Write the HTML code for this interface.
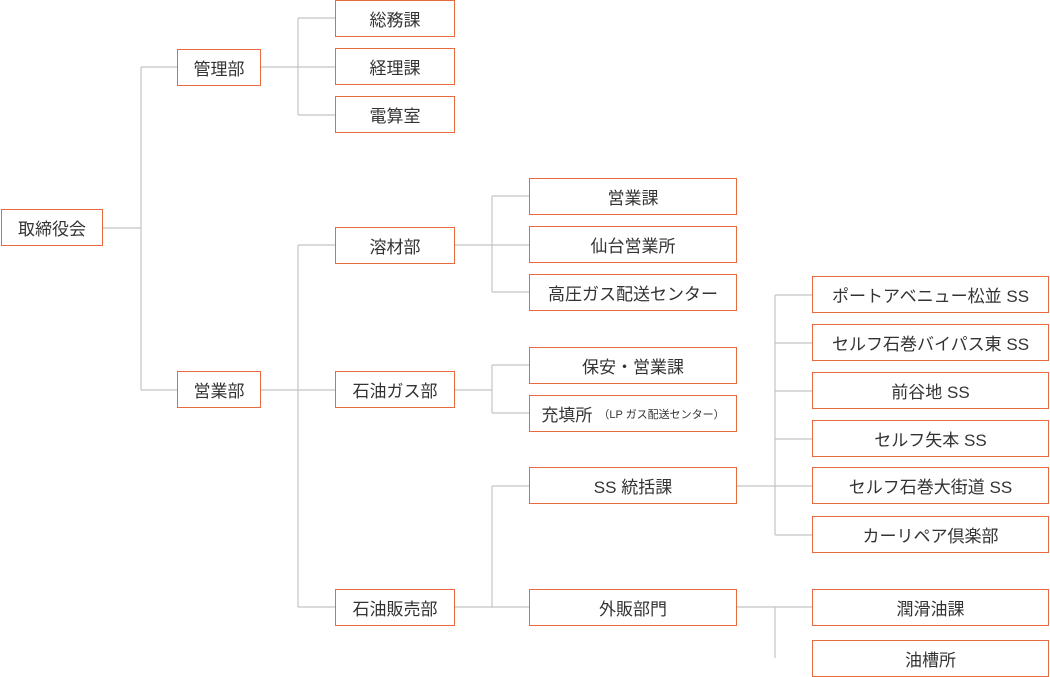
<!DOCTYPE html>
<html><head><meta charset="utf-8"><style>
body{margin:0;width:1050px;height:677px;background:#fff;position:relative;overflow:hidden;font-family:"Liberation Sans","Noto Sans CJK JP",sans-serif;color:#333}
.b{position:absolute;box-sizing:border-box;border:1.5px solid #ea6a40;background:#fff;display:flex;align-items:center;justify-content:center;font-size:17px;height:37px;white-space:nowrap}
svg{position:absolute;left:0;top:0}
small{font-size:11px;margin-left:6px}
</style></head><body>
<svg width="1050" height="677"><g stroke="#c4c4c4" stroke-width="1.2" fill="none">
<path d="M103 228H141M141 67V390M141 67H177M141 390H177"/>
<path d="M261 67H335M298 18V115M298 18H335M298 115H335"/>
<path d="M261 390H298M298 245V607M298 245H335M298 390H335M298 607H335"/>
<path d="M455 245H529M492 196V292M492 196H529M492 292H529"/>
<path d="M455 390H492M492 365V413M492 365H529M492 413H529"/>
<path d="M455 607H529M492 486V607M492 486H529"/>
<path d="M737 486H812M775 295V535M775 295H812M775 343H812M775 391H812M775 439H812M775 535H812"/>
<path d="M737 607H812M775 607V658"/>
</g></svg>
<div class="b" style="left:1px;top:209px;width:102px">取締役会</div>
<div class="b" style="left:177px;top:49px;width:84px">管理部</div>
<div class="b" style="left:177px;top:371px;width:84px">営業部</div>
<div class="b" style="left:335px;top:0px;width:120px">総務課</div>
<div class="b" style="left:335px;top:48px;width:120px">経理課</div>
<div class="b" style="left:335px;top:96px;width:120px">電算室</div>
<div class="b" style="left:335px;top:227px;width:120px">溶材部</div>
<div class="b" style="left:335px;top:371px;width:120px">石油ガス部</div>
<div class="b" style="left:335px;top:589px;width:120px">石油販売部</div>
<div class="b" style="left:529px;top:178px;width:208px">営業課</div>
<div class="b" style="left:529px;top:226px;width:208px">仙台営業所</div>
<div class="b" style="left:529px;top:274px;width:208px">高圧ガス配送センター</div>
<div class="b" style="left:529px;top:347px;width:208px">保安・営業課</div>
<div class="b" style="left:529px;top:395px;width:208px">充填所<small>（LP ガス配送センター）</small></div>
<div class="b" style="left:529px;top:467px;width:208px">SS 統括課</div>
<div class="b" style="left:529px;top:589px;width:208px">外販部門</div>
<div class="b" style="left:812px;top:276px;width:237px">ポートアベニュー松並 SS</div>
<div class="b" style="left:812px;top:324px;width:237px">セルフ石巻バイパス東 SS</div>
<div class="b" style="left:812px;top:372px;width:237px">前谷地 SS</div>
<div class="b" style="left:812px;top:420px;width:237px">セルフ矢本 SS</div>
<div class="b" style="left:812px;top:467px;width:237px">セルフ石巻大街道 SS</div>
<div class="b" style="left:812px;top:516px;width:237px">カーリペア倶楽部</div>
<div class="b" style="left:812px;top:589px;width:237px">潤滑油課</div>
<div class="b" style="left:812px;top:640px;width:237px">油槽所</div>
</body></html>
